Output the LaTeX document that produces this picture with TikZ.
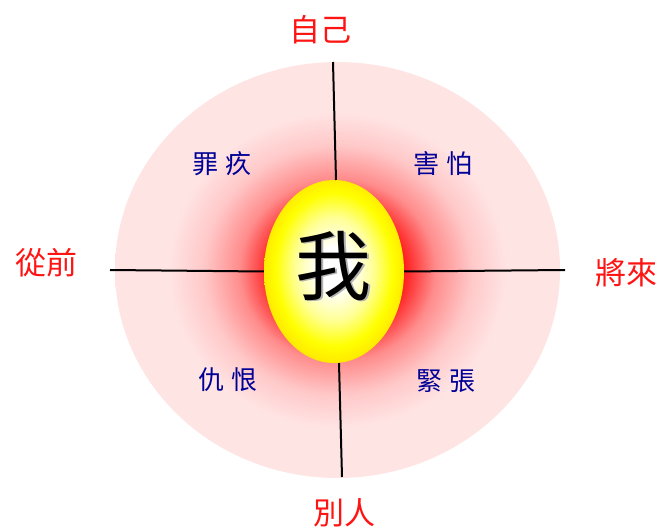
\documentclass[tikz,border=0pt]{standalone}
\usepackage{fontspec}
\newfontfamily\cjk{Noto Sans CJK TC}
\usetikzlibrary{shapes.geometric}
\definecolor{palepink}{RGB}{255,228,228}
\definecolor{lightpink}{RGB}{255,200,200}
\definecolor{midpink}{RGB}{255,140,140}
\definecolor{hotred}{RGB}{255,30,30}
\definecolor{eggmid}{RGB}{255,255,150}
\definecolor{eggedge}{RGB}{255,235,0}
\definecolor{quadblue}{RGB}{0,0,150}
\definecolor{timered}{RGB}{255,20,20}
\pgfdeclareradialshading{glow}{\pgfpoint{0bp}{0bp}}{color(0bp)=(hotred); color(7.5bp)=(hotred); color(11bp)=(midpink); color(15bp)=(lightpink); color(19bp)=(palepink); color(50bp)=(palepink)}
\pgfdeclareradialshading{eggshade}{\pgfpoint{0bp}{1bp}}{color(0bp)=(white); color(6bp)=(white); color(14bp)=(eggmid); color(21bp)=(yellow); color(25bp)=(eggedge); color(50bp)=(eggedge)}
\tikzset{
  outerdisc/.style={ellipse, inner sep=0pt, shading=glow, draw=none},
  egg/.style={ellipse, inner sep=0pt, shading=eggshade, draw=none},
  axisline/.style={draw=black, line width=2pt},
  timelabel/.style={text=timered, font=\cjk\fontsize{31}{31}\selectfont},
  quadlabel/.style={text=quadblue, font=\cjk\fontsize{26}{26}\selectfont},
  meglyph/.style={font=\cjk\fontsize{76}{76}\selectfont, inner sep=0pt},
}
\begin{document}
\begin{tikzpicture}[x=1pt,y=-1pt]
\useasboundingbox (0,0) rectangle (661,529);
\node[outerdisc, minimum width=445pt, minimum height=416pt] (outer) at (337.5,270) {};
\node[egg, minimum width=140pt, minimum height=183pt] (me) at (334,271.5) {};
\node[meglyph, text=black!30] (meshadow) at (335.5,267.5) {我};
\node[meglyph, text=black] (metext) at (333,266) {我};
\coordinate (ttop) at (333,62);
\coordinate (tbot) at (336,180);
\coordinate (btop) at (339,363);
\coordinate (bbot) at (342,477);
\coordinate (lleft) at (110,270);
\coordinate (rright) at (565,270);
\draw[axisline] (ttop) -- (tbot);
\draw[axisline] (btop) -- (bbot);
\draw[axisline] (lleft) -- (me.west);
\draw[axisline] (me.east) -- (rright);
\node[timelabel] (self) at (320,30) {自己};
\node[timelabel] (others) at (344,513) {別人};
\node[timelabel] (past) at (47,263) {從前};
\node[timelabel] (future) at (626,273) {將來};
\node[quadlabel] (guilt) at (222,164) {罪\hspace{8pt}疚};
\node[quadlabel] (fear) at (443,164) {害\hspace{8pt}怕};
\node[quadlabel] (hate) at (228,380) {仇\hspace{8pt}恨};
\node[quadlabel] (tense) at (446,381) {緊\hspace{8pt}張};
\end{tikzpicture}
\end{document}
